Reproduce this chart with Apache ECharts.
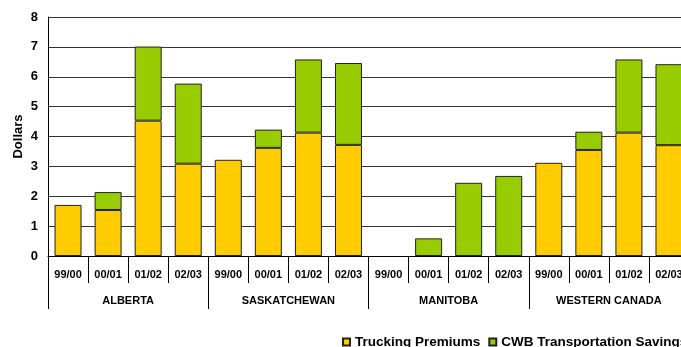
<!DOCTYPE html>
<html>
<head>
<meta charset="utf-8">
<script src="https://cdn.jsdelivr.net/npm/echarts@6/dist/echarts.min.js"></script>
<style>
  html, body { margin: 0; padding: 0; background: #fff; }
  #chart { width: 681px; height: 347px; }
</style>
</head>
<body>
<div id="chart"></div>
<script>
const years = ["99/00", "00/01", "01/02", "02/03"];
const regions = ["ALBERTA", "SASKATCHEWAN", "MANITOBA", "WESTERN CANADA"];

// per region, per year
const truckingPremiums = [
  1.71, 1.54, 4.53, 3.09,
  3.22, 3.62, 4.13, 3.72,
  null, null, null, null,
  3.12, 3.55, 4.13, 3.71,
];
const cwbSavings = [
  null, 0.60, 2.48, 2.68,
  null, 0.61, 2.45, 2.74,
  null, 0.59, 2.45, 2.68,
  null, 0.61, 2.45, 2.71,
];

const categories = [];
regions.forEach(() => years.forEach((y) => categories.push(y)));

const fontFamily = "Liberation Sans, Arial, sans-serif";

var chart = echarts.init(document.getElementById("chart"));

var option = {
  animation: false,
  textStyle: { fontFamily: fontFamily },
  grid: {
    left: 48,
    top: 17,
    right: -8,
    bottom: 91,
    containLabel: false,
    outerBoundsMode: "none",
  },
  legend: {
    left: 337,
    top: 330,
    width: 500,
    icon: "rect",
    itemWidth: 7,
    itemHeight: 7,
    itemGap: 8,
    textStyle: {
      fontFamily: fontFamily,
      fontWeight: "bold",
      fontSize: 13.5,
      color: "#000",
    },
    data: ["Trucking Premiums", "CWB Transportation Savings"],
  },
  xAxis: [
    {
      type: "category",
      data: categories,
      axisLine: { show: true, lineStyle: { color: "#000", width: 1 } },
      axisTick: {
        show: true,
        interval: 0,
        length: 27,
        lineStyle: { color: "#000" },
      },
      axisLabel: {
        interval: 0,
        margin: 13,
        fontFamily: fontFamily,
        fontWeight: "bold",
        fontSize: 11,
        color: "#000",
      },
    },
    {
      type: "category",
      data: regions,
      position: "bottom",
      axisLine: { show: false },
      axisTick: {
        show: true,
        interval: 0,
        length: 53,
        lineStyle: { color: "#000" },
      },
      axisLabel: {
        interval: 0,
        margin: 39,
        fontFamily: fontFamily,
        fontWeight: "bold",
        fontSize: 11,
        color: "#000",
      },
    },
  ],
  yAxis: {
    type: "value",
    min: 0,
    max: 8,
    interval: 1,
    name: "Dollars",
    nameLocation: "middle",
    nameGap: 23,
    nameMoveOverlap: false,
    nameTextStyle: {
      fontFamily: fontFamily,
      fontWeight: "bold",
      fontSize: 13,
      color: "#000",
    },
    axisLine: { show: true, lineStyle: { color: "#000" } },
    axisTick: { show: false },
    axisLabel: {
      margin: 10,
      fontFamily: fontFamily,
      fontWeight: "bold",
      fontSize: 13,
      color: "#000",
    },
    splitLine: { lineStyle: { color: "#333", width: 1 } },
  },
  series: [
    {
      name: "Trucking Premiums",
      type: "bar",
      stack: "total",
      barWidth: 27,
      data: truckingPremiums,
      itemStyle: { color: "#FFCC00", borderColor: "#222", borderWidth: 1 },
    },
    {
      name: "CWB Transportation Savings",
      type: "bar",
      stack: "total",
      barWidth: 27,
      data: cwbSavings,
      itemStyle: { color: "#99CC00", borderColor: "#222", borderWidth: 1 },
    },
  ],
};

chart.setOption(option);
</script>
</body>
</html>
